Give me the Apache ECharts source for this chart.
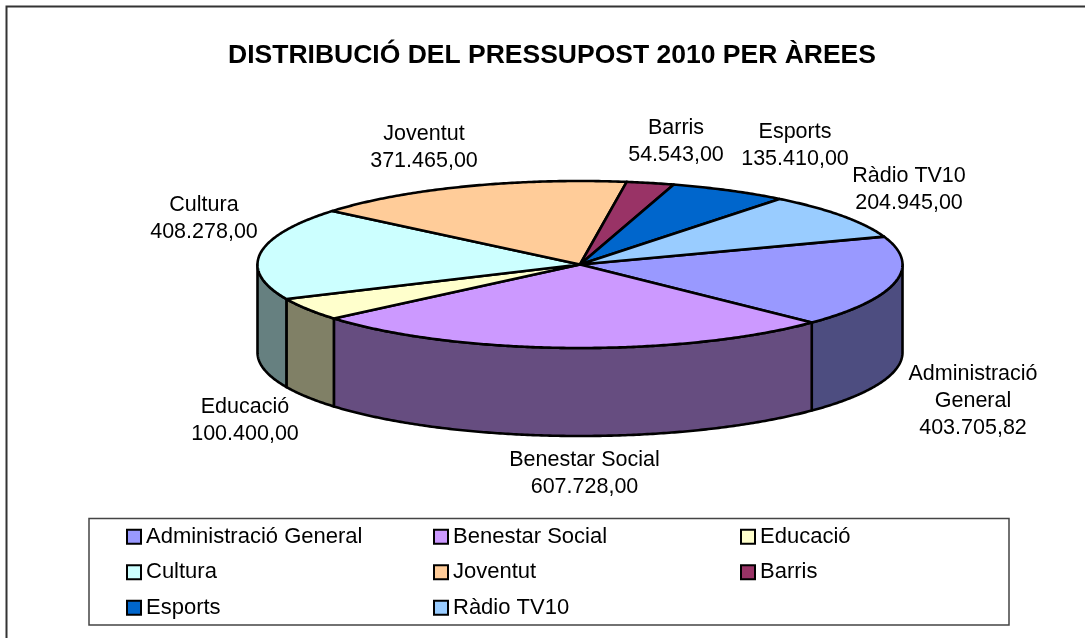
<!DOCTYPE html>
<html>
<head>
<meta charset="utf-8">
<style>html,body{margin:0;padding:0;background:#fff}#c{width:1085px;height:638px}</style>
<script src="https://cdn.jsdelivr.net/npm/echarts@6/dist/echarts.min.js"></script>
</head>
<body>
<div id="c"></div>
<script>
const titleText = 'DISTRIBUCIÓ DEL PRESSUPOST 2010 PER ÀREES';
const categories = ['Administració General','Benestar Social','Educació','Cultura','Joventut','Barris','Esports','Ràdio TV10'];
const values = [403705.82,607728,100400,408278,371465,54543,135410,204945];
const colors = ['#9999FF','#CC99FF','#FFFFCC','#CCFFFF','#FFCC99','#993366','#0066CC','#99CCFF'];
const labelLines = [['Administració','General'],['Benestar Social'],['Educació'],['Cultura'],['Joventut'],['Barris'],['Esports'],['Ràdio TV10']];

// Drawing settings (not data)
const FONT = '"Liberation Sans", Arial, sans-serif';
const pie = {cx:580, cy:264.5, rx:322.5, ry:83.5, depth:88, startDeg:-19.5};
const labelCenters = [[973,401.5],[584.5,473.5],[245,421],[204,218.5],[424,147.5],[676,142],[795,145.5],[909,190]];

const total = values.reduce((a,b)=>a+b,0);
const spans = []; let acc = pie.startDeg;
values.forEach(v=>{ const s = v/total*360; spans.push([acc,acc+s]); acc += s; });

const fmt = v => {
  const [i,d] = v.toFixed(2).split('.');
  return i.replace(/\B(?=(\d{3})+$)/g,'.') + ',' + d;
};
const halve = hex => '#' + [1,3,5].map(i=>Math.round(parseInt(hex.substr(i,2),16)/2).toString(16).padStart(2,'0')).join('');
const pt = (deg,dy) => { const t = deg*Math.PI/180; return [pie.cx+pie.rx*Math.cos(t), pie.cy+pie.ry*Math.sin(t)+(dy||0)]; };
const arc = (a,b,dy) => { const out=[]; const n=Math.max(2,Math.ceil(Math.abs(b-a)*2)); for(let i=0;i<=n;i++) out.push(pt(a+(b-a)*i/n,dy)); return out; };

function renderSlice(idx){
  return function(){
    const [a,b] = spans[idx];
    const kids = [];
    const stroke = {stroke:'#000', lineWidth:2.6, lineJoin:'round'};
    const wA = Math.max(a,0), wB = Math.min(b,180);
    if (wB > wA) {
      const top = arc(wA,wB,0), bot = arc(wB,wA,pie.depth);
      kids.push({type:'polygon', shape:{points:top.concat(bot)}, style:Object.assign({fill:halve(colors[idx])},stroke)});
    }
    kids.push({type:'polygon', shape:{points:[[pie.cx,pie.cy]].concat(arc(a,b,0))}, style:Object.assign({fill:colors[idx]},stroke)});
    const lc = labelCenters[idx];
    kids.push({type:'text', z2:50, style:{
      text: labelLines[idx].concat([fmt(values[idx])]).join('\n'),
      x:lc[0], y:lc[1], align:'center', verticalAlign:'middle',
      font:'21.5px '+FONT, lineHeight:27, fill:'#000'
    }});
    return {type:'group', children:kids};
  };
}

const legendCols = [[0,3,6],[1,4,7],[2,5]];
const legendLeft = [126,433,740];

const option = {
  animation:false,
  backgroundColor:'#fff',
  tooltip:{show:false},
  title:{text:titleText, left:547, top:37, textAlign:'center',
    textStyle:{fontFamily:FONT, fontWeight:'bold', fontSize:26.5, color:'#000'}},
  legend: legendCols.map((col,i)=>({
    orient:'vertical', left:legendLeft[i], top:525, padding:0,
    itemWidth:14, itemHeight:14, itemGap:12, selectedMode:false, icon:'rect',
    data:col.map(k=>categories[k]),
    textStyle:{fontFamily:FONT, fontSize:22, color:'#000', padding:[0,0,0,0], lineHeight:23.5, height:23.5}
  })),
  graphic:[
    {type:'polyline', silent:true, z:0, shape:{points:[[6.5,638],[6.5,6.5],[1085,6.5]]}, style:{fill:null, stroke:'#333', lineWidth:2}},
    {type:'rect', silent:true, z:0, shape:{x:89,y:518.5,width:920,height:106.5}, style:{fill:'#fff', stroke:'#444', lineWidth:1.5}}
  ],
  series: categories.map((name,i)=>({
    type:'custom', name, coordinateSystem:'none', silent:true, z:2,
    itemStyle:{color:colors[i], borderColor:'#000', borderWidth:2.5},
    renderItem:renderSlice(i),
    data:[[values[i]]]
  }))
};
const chart = echarts.init(document.getElementById('c'), null, {renderer:'canvas'});
chart.setOption(option);
</script>
</body>
</html>
